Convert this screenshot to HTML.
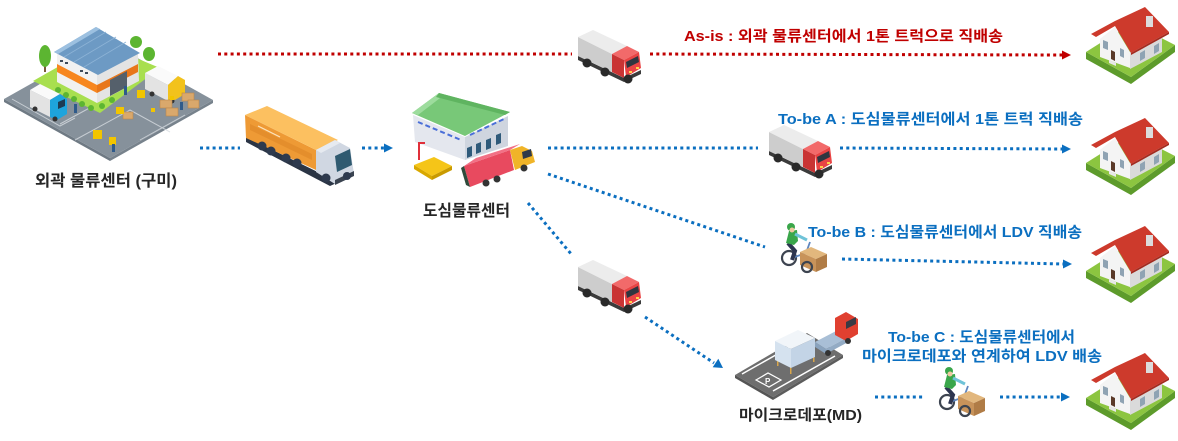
<!DOCTYPE html>
<html><head><meta charset="utf-8">
<style>
html,body{margin:0;padding:0;background:#fff;}
svg{display:block;}
text{font-family:"Liberation Sans","Noto Sans CJK KR",sans-serif;font-weight:bold;}
</style></head><body>
<svg width="1178" height="441" viewBox="0 0 1178 441" xmlns="http://www.w3.org/2000/svg">
<defs>
 <g id="truck">
  <polygon points="0,27 46,49 63,41 63,45 46,53 0,31" fill="#3b3b3b"/>
  <polygon points="0,8 34,25 34,43 0,27" fill="#cdcdcd"/>
  <polygon points="0,8 15,1 49,17 34,25" fill="#ececec"/>
  <polygon points="34,25 49,17 61,23 46,31" fill="#f26a6a"/>
  <polygon points="34,25 46,31 46,49 34,43" fill="#c93434"/>
  <polygon points="46,31 61,23 63,39 48,48" fill="#e94444"/>
  <polygon points="48,33 60,27 61,33 49,39" fill="#2f3640"/>
  <circle cx="9" cy="34" r="4.5" fill="#2a2a2a"/>
  <circle cx="27" cy="43" r="4.5" fill="#2a2a2a"/>
  <circle cx="50" cy="50" r="4.5" fill="#2a2a2a"/>
  <rect x="51" y="42" width="3" height="2" fill="#ffd24a"/>
  <rect x="58" y="38" width="3" height="2" fill="#ffd24a"/>
 </g>
 <g id="house">
  <polygon points="6,50 51,75 95,43 95,50 51,82 6,57" fill="#5d9b2b"/>
  <polygon points="6,50 52,21 95,43 51,75" fill="#8cc540"/>
  <polygon points="20,37 35,25 50,50 50,66 20,55" fill="#f4f4f4"/>
  <polygon points="50,50 82,33 82,50 50,67" fill="#dadada"/>
  <polygon points="11,32 35,19 65,5 89,30 51,51 35,24 16,35" fill="#cd3a2c"/>
  <polygon points="51,51 89,30 89,32 51,53" fill="#a32a1f"/>
  <rect x="66" y="14" width="7" height="11" fill="#dcdcdc"/>
  <polygon points="31,48 35,50 35,59 31,57" fill="#5b3a29"/>
  <polygon points="23,38 28,40 28,48 23,46" fill="#8fa3b3"/>
  <polygon points="40,46 44,48 44,56 40,54" fill="#8fa3b3"/>
  <polygon points="60,51 65,48 65,56 60,59" fill="#8fa3b3"/>
  <polygon points="74,44 79,41 79,49 74,52" fill="#8fa3b3"/>
  <polygon points="29,58 36,61 36,64 29,61" fill="#e8e8e8"/>
 </g>
 <g id="bike">
  <circle cx="9" cy="36" r="7" fill="none" stroke="#3d4450" stroke-width="2.2"/>
  <path d="M12,36 L26,31 L30,20" stroke="#5f86bf" stroke-width="1.8" fill="none"/>
  <path d="M8,21 L15,29 L12,38" stroke="#2d3550" stroke-width="4" fill="none"/>
  <polygon points="17,8 9,9 6,21 14,23 18,19" fill="#3aa64a"/>
  <path d="M15,12 L27,18" stroke="#6fc3d8" stroke-width="3"/>
  <circle cx="11" cy="5" r="4" fill="#3aa64a"/>
  <circle cx="12" cy="8" r="2.5" fill="#f0c8a0"/>
  <polygon points="20,30 31,25 47,32 36,37" fill="#e2b77d"/>
  <polygon points="20,30 36,37 36,50 20,43" fill="#c8935a"/>
  <polygon points="36,37 47,32 47,45 36,50" fill="#b07c46"/>
  <circle cx="27" cy="45" r="5" fill="none" stroke="#3d4450" stroke-width="2.2"/>
 </g>
</defs>

<!-- ===== Top-left warehouse complex ===== -->
<polygon points="4,99 110,158 110,161 4,102" fill="#6f7a84"/>
<polygon points="110,158 213,100 213,103 110,161" fill="#77828c"/>
<polygon points="4,99 107,41 213,100 110,158" fill="#86919b"/>
<g stroke="#d8dde2" stroke-width="1" fill="none" opacity="0.8">
 <polyline points="12,99 60,126 75,118"/>
 <polyline points="75,140 130,110 170,132"/>
 <polyline points="140,140 185,115"/>
 <polyline points="60,124 95,105"/>
</g>
<polygon points="33,81 100,43 160,68 100,113" fill="#a8df4f"/>
<g fill="#5db532">
 <circle cx="58" cy="90" r="3"/><circle cx="66" cy="95" r="3"/><circle cx="74" cy="99" r="3"/><circle cx="82" cy="104" r="3"/><circle cx="91" cy="108" r="3"/><circle cx="102" cy="106" r="3"/><circle cx="112" cy="100" r="3"/>
</g>
<polygon points="57,53 97,74 97,103 57,82" fill="#f1f1f1"/>
<polygon points="57,64 97,85 97,93 57,72" fill="#f7861f"/>
<polygon points="97,74 138,53 139,81 97,103" fill="#e4e4e4"/>
<polygon points="97,85 138,64 138,72 97,93" fill="#e8761a"/>
<polygon points="110,80 127,71 127,87 110,96" fill="#55606b"/>
<g fill="#3d4a5a"><rect x="60" y="60" width="3" height="2"/><rect x="65" y="62" width="3" height="2"/><rect x="80" y="70" width="3" height="2"/><rect x="85" y="72" width="3" height="2"/></g>
<polygon points="54,52 96,27 140,53 98,75" fill="#6d9ac4"/>
<polygon points="54,52 96,27 100,29 58,54" fill="#9cc0e0"/>
<g stroke="#8db3d6" stroke-width="0.8"><line x1="64" y1="57" x2="106" y2="32"/><line x1="74" y1="62" x2="116" y2="37"/><line x1="84" y1="67" x2="126" y2="42"/></g>
<rect x="44" y="62" width="2" height="10" fill="#7a5a3a"/>
<ellipse cx="45" cy="56" rx="6" ry="11" fill="#5cb531"/>
<ellipse cx="136" cy="42" rx="6" ry="6" fill="#5cb531"/>
<ellipse cx="149" cy="54" rx="6" ry="7" fill="#5cb531"/>
<polygon points="30,90 50,100 50,117 30,107" fill="#e3e3e3"/>
<polygon points="30,90 40,84 60,94 50,100" fill="#fafafa"/>
<polygon points="50,100 60,94 67,99 67,114 57,120 50,117" fill="#1ea4dc"/>
<polygon points="58,102 65,99 65,106 58,109" fill="#1d3b52"/>
<circle cx="35" cy="109" r="2.5" fill="#333"/><circle cx="55" cy="119" r="2.5" fill="#333"/>
<polygon points="145,73 168,85 168,101 145,89" fill="#e3e3e3"/>
<polygon points="145,73 158,66 178,76 168,85" fill="#fafafa"/>
<polygon points="168,85 178,76 185,80 185,94 175,100 168,101" fill="#f2c21c"/>
<circle cx="152" cy="94" r="2.5" fill="#333"/><circle cx="172" cy="101" r="2.5" fill="#333"/>
<g fill="#d9a86c" stroke="#b9864c" stroke-width="0.6">
 <rect x="160" y="100" width="12" height="8"/><rect x="166" y="108" width="12" height="8"/><rect x="182" y="93" width="12" height="8"/><rect x="188" y="100" width="11" height="8"/><rect x="123" y="112" width="10" height="7"/>
</g>
<g fill="#f2c500">
 <rect x="116" y="107" width="8" height="7"/><rect x="137" y="90" width="8" height="8"/><rect x="93" y="130" width="9" height="9"/><rect x="109" y="137" width="7" height="8"/><rect x="170" y="96" width="4" height="4"/><rect x="151" y="108" width="4" height="4"/>
</g>
<g fill="#2f5a8a"><rect x="124" y="86" width="3" height="9"/><rect x="74" y="104" width="3" height="9"/><rect x="180" y="102" width="3" height="8"/><rect x="112" y="144" width="3" height="8"/></g>

<!-- ===== Orange truck ===== -->
<polygon points="246,137 330,178 352,170 352,176 330,186 246,142" fill="#2b3545"/>
<polygon points="245,115 316,150 316,170 246,138" fill="#ee9a35"/>
<polygon points="250,124 312,154 312,160 250,130" fill="#e0892a" opacity="0.7"/>
<polygon points="245,115 267,106 338,140 316,150" fill="#fcc060"/>
<line x1="258" y1="126" x2="280" y2="137" stroke="#fbe3bd" stroke-width="1.2"/>
<polygon points="316,150 335,140 350,148 354,174 335,184 316,172" fill="#d0d7e2"/>
<polygon points="316,150 335,140 340,143 321,153" fill="#e6eaf0"/>
<polygon points="335,156 350,149 352,165 337,172" fill="#2f5a70"/>
<polygon points="335,180 354,171 354,176 335,185" fill="#3a4350"/>
<g fill="#2e3a4e"><circle cx="262" cy="146" r="4.5"/><circle cx="271" cy="151" r="4.5"/><circle cx="286" cy="158" r="4.5"/><circle cx="297" cy="163" r="4.5"/><circle cx="326" cy="178" r="4.5"/><circle cx="347" cy="176" r="4"/></g>

<!-- ===== Center warehouse ===== -->
<polygon points="413,115 465,137 465,160 415,142" fill="#e4e7ee"/>
<polygon points="465,137 508,116 508,146 465,160" fill="#cfd5df"/>
<g stroke="#4a6fd8" stroke-width="2" stroke-dasharray="5 3"><line x1="418" y1="122" x2="461" y2="140"/><line x1="470" y1="135" x2="504" y2="119"/></g>
<g fill="#2f5a7a"><polygon points="467,148 472,146 472,156 467,158"/><polygon points="476,144 481,142 481,152 476,154"/><polygon points="486,140 491,138 491,148 486,150"/><polygon points="496,135 501,133 501,143 496,145"/></g>
<polygon points="412,113 439,93 510,112 465,136" fill="#78c878"/>
<polygon points="412,113 439,93 444,95 418,115" fill="#9ddc9d"/>
<polygon points="439,93 510,112 505,115 436,97" fill="#5fb460"/>
<path d="M419,160 L419,143 L425,143" stroke="#e0303a" stroke-width="2" fill="none"/>
<polygon points="414,165 434,157 452,166 432,176" fill="#f5c518"/>
<polygon points="414,165 432,176 432,180 414,169" fill="#d9a800"/>
<polygon points="432,176 452,166 452,170 432,180" fill="#c99a00"/>
<polygon points="464,166 510,150 514,170 470,187" fill="#e84a5f"/>
<polygon points="464,166 476,158 520,144 510,150" fill="#f27085"/>
<polygon points="464,166 470,187 466,185 461,168" fill="#2e4a3a"/>
<polygon points="510,150 522,146 532,151 535,162 515,170" fill="#f0b428"/>
<polygon points="522,152 531,149 532,156 523,159" fill="#2f3a4a"/>
<g fill="#333"><circle cx="486" cy="183" r="3.5"/><circle cx="497" cy="179" r="3.5"/><circle cx="524" cy="168" r="3.5"/></g>

<!-- ===== Small red trucks ===== -->
<use href="#truck" transform="translate(578,29)"/>
<use href="#truck" transform="translate(769,124)"/>
<use href="#truck" transform="translate(578,259)"/>

<!-- ===== Houses ===== -->
<use href="#house" transform="translate(1080,2)"/>
<use href="#house" transform="translate(1080,113)"/>
<use href="#house" transform="translate(1080,221)"/>
<use href="#house" transform="translate(1080,348)"/>

<!-- ===== Cyclists ===== -->
<use href="#bike" transform="translate(780,222)"/>
<use href="#bike" transform="translate(938,366)"/>

<!-- ===== Micro depot ===== -->
<polygon points="735,375 807,333 843,355 773,397" fill="#6e6e6e"/>
<polygon points="735,375 773,397 773,400 735,378" fill="#555"/>
<polygon points="773,397 843,355 843,358 773,400" fill="#5c5c5c"/>
<line x1="773" y1="391" x2="835" y2="356" stroke="#fff" stroke-width="1.5"/>
<line x1="742" y1="374" x2="790" y2="347" stroke="#fff" stroke-width="1.5"/>
<polygon points="756,380 768,373 781,380 769,387" fill="none" stroke="#fff" stroke-width="1.2"/>
<text x="765" y="384" font-size="8" fill="#fff">P</text>
<g fill="#d9a64a"><rect x="777" y="358" width="1.5" height="8"/><rect x="790" y="366" width="1.5" height="8"/><rect x="813" y="355" width="1.5" height="7"/></g>
<polygon points="775,341 798,330 815,338 791,349" fill="#f1f5f9"/>
<polygon points="775,341 791,349 791,368 775,360" fill="#d5e2ef"/>
<polygon points="791,349 815,338 815,357 791,368" fill="#c3d4e6"/>
<polygon points="815,342 838,330 850,336 826,349" fill="#a9bfd6"/>
<polygon points="815,342 826,349 826,354 815,347" fill="#8aa3bd"/>
<polygon points="826,349 850,336 850,341 826,354" fill="#93abc4"/>
<polygon points="835,318 846,312 858,319 858,334 846,341 835,335" fill="#e04030"/>
<polygon points="846,322 856,317 856,324 846,329" fill="#3a3a44"/>
<g fill="#333"><circle cx="828" cy="353" r="3"/><circle cx="848" cy="341" r="3"/></g>

<!-- ===== Connectors ===== -->
<g fill="none" stroke-width="3" stroke-dasharray="3 3.3">
 <line x1="218" y1="54" x2="572" y2="54" stroke="#c00000"/>
 <line x1="650" y1="54" x2="1062" y2="55" stroke="#c00000"/>
 <g stroke="#0b6fc0">
  <line x1="200" y1="148" x2="240" y2="148"/>
  <line x1="362" y1="148" x2="384" y2="148"/>
  <line x1="548" y1="148" x2="758" y2="148"/>
  <line x1="840" y1="148" x2="1062" y2="149"/>
  <line x1="548" y1="174" x2="765" y2="247"/>
  <line x1="842" y1="259" x2="1063" y2="264"/>
  <line x1="528" y1="203" x2="572" y2="255"/>
  <line x1="645" y1="317" x2="714" y2="363"/>
  <line x1="875" y1="397" x2="923" y2="397"/>
  <line x1="1000" y1="397" x2="1062" y2="397"/>
 </g>
</g>
<polygon points="1071,55 1062,50.5 1062,59.5" fill="#c00000"/>
<g fill="#0b6fc0">
 <polygon points="393,148 384,143.5 384,152.5"/>
 <polygon points="1071,149 1062,144.5 1062,153.5"/>
 <polygon points="1072,264 1063,259.5 1063,268.5"/>
 <polygon points="723,368 712.7,367.2 718.3,358.8"/>
 <polygon points="1070,397 1061,392.5 1061,401.5"/>
</g>

<!-- ===== Labels ===== -->
<text x="684" y="41" font-size="15" fill="#c00000" textLength="319" lengthAdjust="spacingAndGlyphs">As-is : 외곽 물류센터에서 1톤 트럭으로 직배송</text>
<text x="778" y="124" font-size="15" fill="#0b6fc0" textLength="305" lengthAdjust="spacingAndGlyphs">To-be  A : 도심물류센터에서  1톤  트럭  직배송</text>
<text x="808" y="237" font-size="15" fill="#0b6fc0" textLength="274" lengthAdjust="spacingAndGlyphs">To-be  B : 도심물류센터에서  LDV  직배송</text>
<text x="888" y="342" font-size="15" fill="#0b6fc0" textLength="187" lengthAdjust="spacingAndGlyphs">To-be  C : 도심물류센터에서</text>
<text x="862" y="361" font-size="15" fill="#0b6fc0" textLength="240" lengthAdjust="spacingAndGlyphs">마이크로데포와  연계하여  LDV  배송</text>
<text x="35" y="186" font-size="16" fill="#262626" textLength="142" lengthAdjust="spacingAndGlyphs">외곽 물류센터 (구미)</text>
<text x="423" y="216" font-size="16" fill="#262626" textLength="87" lengthAdjust="spacingAndGlyphs">도심물류센터</text>
<text x="739" y="420" font-size="15" fill="#262626" textLength="123" lengthAdjust="spacingAndGlyphs">마이크로데포(MD)</text>
</svg>
</body></html>
